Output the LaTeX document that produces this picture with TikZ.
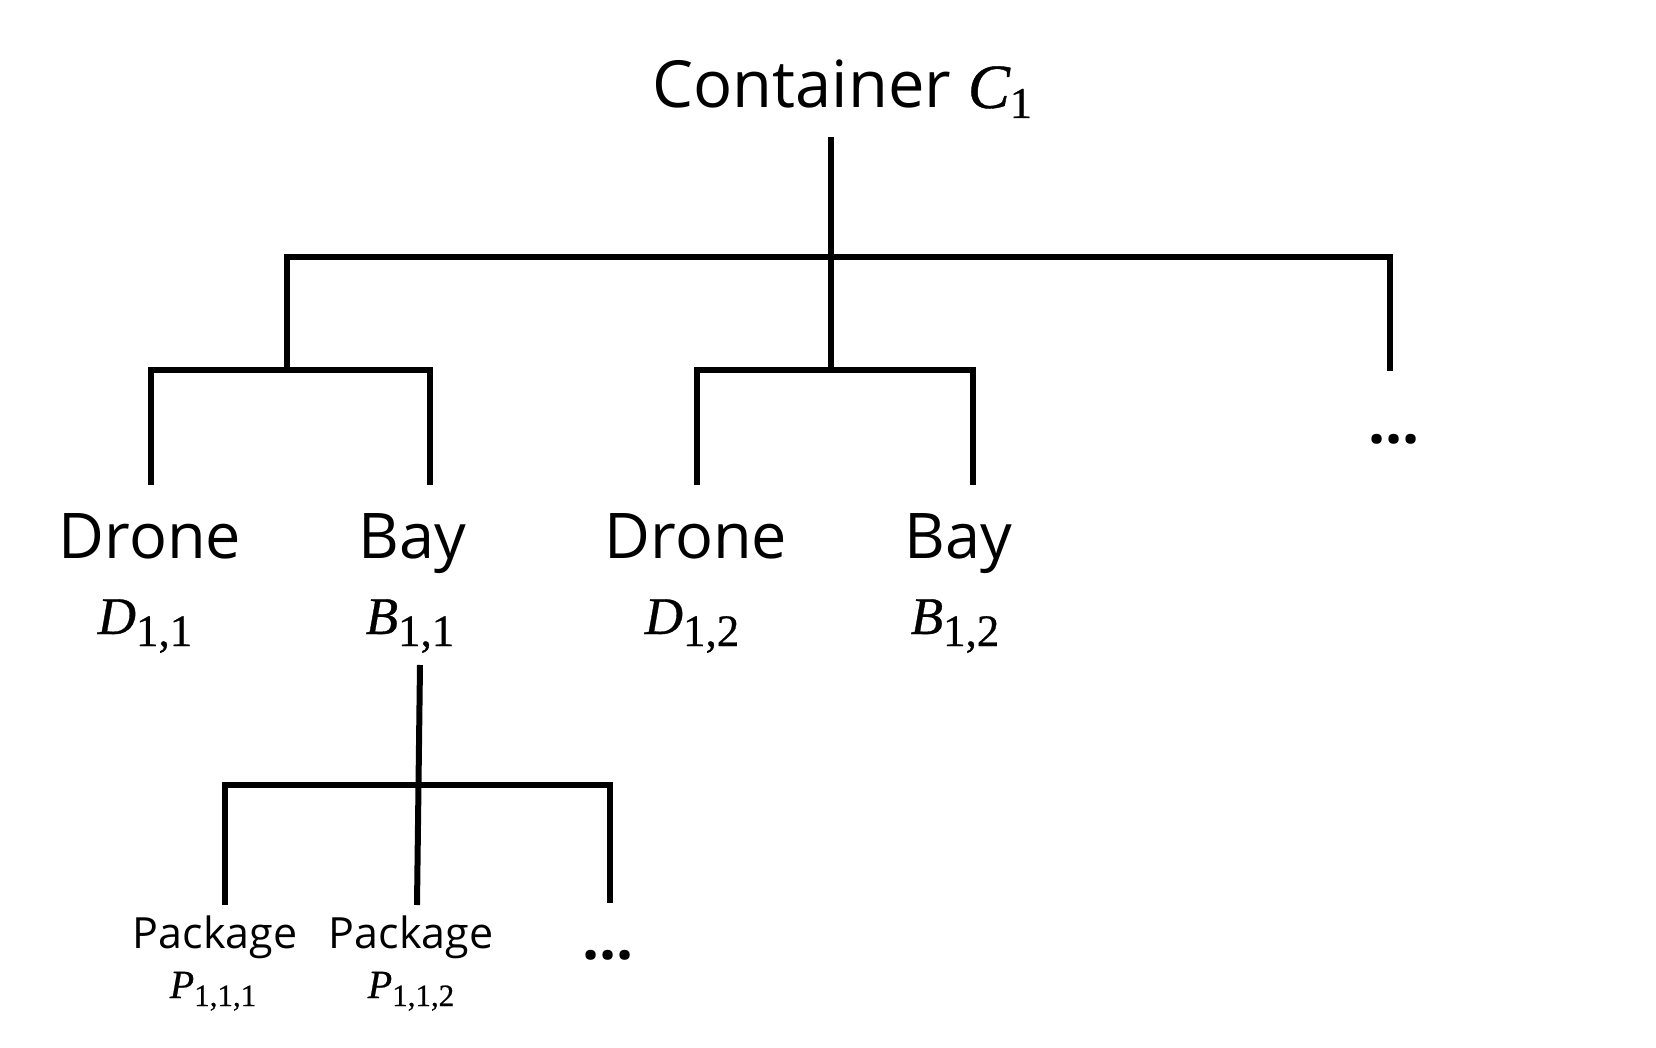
\documentclass[tikz,border=0pt]{standalone}
\usepackage{fontspec}
\setmainfont{Open Sans}
\newfontfamily\mathserif[FakeBold=0.6, ItalicFeatures={FakeBold=0.6}]{Liberation Serif}
\newcommand\symb[5]{{\mathserif\fontsize{#3}{#3}\selectfont\itshape #1}\raisebox{-#5}{\mathserif\fontsize{#4}{#4}\selectfont #2}}
\tikzset{
  tree/.style={line width=3pt, line join=miter, line cap=butt},
  lbl/.style={inner sep=0pt, anchor=base, font=\fontsize{31.5pt}{31.5pt}\selectfont},
  sym/.style={inner sep=0pt, anchor=base},
  pkg/.style={inner sep=0pt, anchor=base, font=\fontsize{21.5pt}{21.5pt}\selectfont},
  more/.style={inner sep=0pt, anchor=base, font=\fontsize{30pt}{30pt}\selectfont\bfseries},
}
\begin{document}
\begin{tikzpicture}[x=0.5pt, y=-0.5pt]
\fill[white] (0,0) rectangle (1656,1048);
\useasboundingbox (0,0) rectangle (1656,1048);

% texts
\node[inner sep=0pt, anchor=base west, font=\fontsize{32.5pt}{32.5pt}\selectfont] (container) at (652,108) {Container \symb{C}{1}{31.5pt}{22pt}{5pt}};

\node[lbl] (drone1) at (150,558) {Drone};
\node[sym] (drone1sym) at (145,634) {\symb{D}{1,1}{26.5pt}{22.5pt}{6pt}};
\node[lbl] (bay1) at (412,558) {Bay};
\node[sym] (bay1sym) at (410,634) {\symb{B}{1,1}{26.5pt}{22.5pt}{6pt}};
\node[lbl] (drone2) at (696,558) {Drone};
\node[sym] (drone2sym) at (692,634) {\symb{D}{1,2}{26.5pt}{22.5pt}{6pt}};
\node[lbl] (bay2) at (958,558) {Bay};
\node[sym] (bay2sym) at (955,634) {\symb{B}{1,2}{26.5pt}{22.5pt}{6pt}};
\node[more] (more1) at (1394,444) {...};

\node[pkg] (pkg1) at (215,948) {Package};
\node[sym] (pkg1sym) at (213,998) {\symb{P}{1,1,1}{20pt}{15.5pt}{4pt}};
\node[pkg] (pkg2) at (411,948) {Package};
\node[sym] (pkg2sym) at (411,998) {\symb{P}{1,1,2}{20pt}{15.5pt}{4pt}};
\node[more] (more2) at (608,959) {...};

% junction coordinates
\coordinate (rootbot) at (831,137);
\coordinate (g2) at (831,370);
\coordinate (g1) at (287,370);
\coordinate (j1L) at (287,257);
\coordinate (j1R) at (1390,257);
\coordinate (moretop) at (1390,371);

\coordinate (d11t) at (151,485);
\coordinate (d11j) at (151,370);
\coordinate (b11j) at (430,370);
\coordinate (b11t) at (430,485);

\coordinate (d12t) at (697,485);
\coordinate (d12j) at (697,370);
\coordinate (b12j) at (973,370);
\coordinate (b12t) at (973,485);

\coordinate (b11b) at (420,665);
\coordinate (p1t) at (225,905);
\coordinate (p1j) at (225,785);
\coordinate (p3j) at (610,785);
\coordinate (p3t) at (610,903);
\coordinate (p2t) at (417,905);

% connectors
\draw[tree] (rootbot) -- (g2);
\draw[tree] (g1) -- (j1L) -- (j1R) -- (moretop);
\draw[tree] (d11t) -- (d11j) -- (b11j) -- (b11t);
\draw[tree] (d12t) -- (d12j) -- (b12j) -- (b12t);
\draw[tree] (b11b) -- (p2t);
\draw[tree] (p1t) -- (p1j) -- (p3j) -- (p3t);
\end{tikzpicture}
\end{document}
